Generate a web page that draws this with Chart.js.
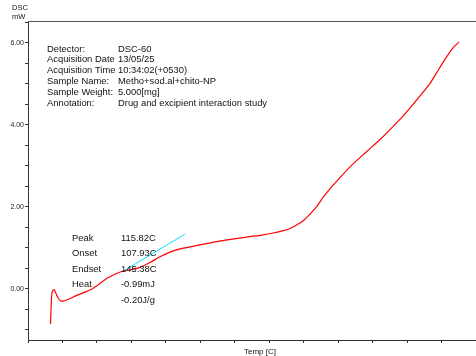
<!DOCTYPE html>
<html>
<head>
<meta charset="utf-8">
<script src="https://cdn.jsdelivr.net/npm/chart.js@4"></script>
<style>
  html, body { margin: 0; padding: 0; background: #fff; }
  #wrap { width: 476px; height: 356px; }
</style>
</head>
<body>
<div id="wrap"><canvas id="dscChart" width="476" height="356"></canvas></div>
<script>
// temperature [C] and heat flow [mW]
var temps = [67.2, 67.5, 67.8, 68.3, 69.2, 70.2, 71.5, 73.0, 74.5, 77.0, 80.4, 85.0, 90.1, 95.0, 99.8,
             104.0, 108.5, 114.0, 119.2, 125.0, 130.8, 137.0, 144.4, 154.0, 163.8, 173.0, 183.1, 190.0,
             196.7, 202.0, 206.4, 210.0, 214.1, 218.0, 221.9, 225.5, 229.7, 233.5, 237.4, 241.0, 245.2,
             250.0, 254.8, 259.5, 264.5, 270.3, 275.2, 281.5, 287.8, 292.5, 297.5, 301.0, 304.7];
var dsc = [-0.86, -0.50, -0.20, -0.06, -0.02, -0.10, -0.22, -0.29, -0.30, -0.27, -0.20, -0.12, -0.03, 0.10, 0.25,
           0.34, 0.42, 0.47, 0.52, 0.64, 0.78, 0.90, 0.99, 1.07, 1.15, 1.21, 1.27, 1.31,
           1.36, 1.41, 1.47, 1.55, 1.66, 1.82, 2.00, 2.22, 2.44, 2.62, 2.80, 2.96, 3.13,
           3.31, 3.49, 3.67, 3.88, 4.13, 4.36, 4.68, 5.01, 5.33, 5.66, 5.87, 6.02];

// tangent line used for onset
var tangentT = [108.7, 145.3];
var tangentV = [0.41, 1.33];

var headerLabels = ["Detector:", "Acquisition Date", "Acquisition Time", "Sample Name:", "Sample Weight:", "Annotation:"];
var headerValues = ["DSC-60", "13/05/25", "10:34:02(+0530)", "Metho+sod.al+chito-NP", "5.000[mg]", "Drug and excipient interaction study"];

var peakLabels = ["Peak", "Onset", "Endset", "Heat", ""];
var peakValues = ["115.82C", "107.93C", "145.38C", "-0.99mJ", "-0.20J/g"];

var font = '"Liberation Sans", Arial, sans-serif';

function toPoints(xs, ys) {
    var pts = [];
    for (var i = 0; i < xs.length; i++) {
        pts.push({ x: xs[i], y: ys[i] });
    }
    return pts;
}

// draws the frame top line and all the text boxes
var textPlugin = {
    id: 'dscText',
    afterDraw: function (chart) {
        var ctx = chart.ctx;
        var area = chart.chartArea;
        ctx.save();
        ctx.strokeStyle = '#555';
        ctx.lineWidth = 1;
        ctx.beginPath();
        ctx.moveTo(area.left, area.top + 0.5);
        ctx.lineTo(area.right, area.top + 0.5);
        ctx.stroke();

        ctx.fillStyle = '#111';
        ctx.textBaseline = 'middle';
        ctx.textAlign = 'left';
        ctx.font = '9.4px ' + font;
        for (var i = 0; i < headerLabels.length; i++) {
            ctx.fillText(headerLabels[i], 47, 49 + i * 10.8);
            ctx.fillText(headerValues[i], 118, 49 + i * 10.8);
        }
        for (var j = 0; j < peakLabels.length; j++) {
            ctx.fillText(peakLabels[j], 72, 238 + j * 15.5);
            ctx.fillText(peakValues[j], 121, 238 + j * 15.5);
        }

        ctx.font = '7.5px ' + font;
        ctx.fillText("DSC", 12, 8);
        ctx.fillText("mW", 12, 17);
        ctx.textAlign = 'center';
        ctx.font = '8px ' + font;
        ctx.fillText("Temp [C]", 260, 352);
        ctx.restore();
    }
};

var dscChart = new Chart(document.getElementById("dscChart"), {
    type: 'line',
    data: {
        datasets: [
            {
                data: toPoints(temps, dsc),
                borderColor: '#ff0000',
                borderWidth: 1.2,
                pointRadius: 0,
                tension: 0.2
            },
            {
                data: toPoints(tangentT, tangentV),
                borderColor: '#00e5ff',
                borderWidth: 1,
                pointRadius: 0
            }
        ]
    },
    options: {
        responsive: false,
        animation: false,
        events: [],
        layout: { padding: { top: 21, right: 0, left: 0, bottom: 0 } },
        plugins: { legend: { display: false }, tooltip: { enabled: false } },
        scales: {
            x: {
                type: 'linear',
                min: 54.1,
                max: 314.5,
                afterFit: function (s) { s.height = 16; },
                border: { color: '#333', width: 1 },
                grid: { drawOnChartArea: false, tickLength: 3, color: '#333' },
                ticks: {
                    stepSize: 20,
                    includeBounds: false,
                    autoSkip: false,
                    maxRotation: 0,
                    padding: 0,
                    color: '#222',
                    font: { size: 7, family: font },
                    callback: function (v) { return v % 100 === 0 ? v.toFixed(2) : ''; }
                }
            },
            y: {
                min: -1.25,
                max: 6.53,
                afterFit: function (s) { s.width = 28; },
                border: { color: '#333', width: 1 },
                grid: { drawOnChartArea: false, tickLength: 3, color: '#333' },
                ticks: {
                    stepSize: 0.5,
                    includeBounds: false,
                    autoSkip: false,
                    padding: 1,
                    color: '#222',
                    font: { size: 7, family: font },
                    callback: function (v) { return Math.abs(v % 2) < 1e-9 ? v.toFixed(2) : ''; }
                }
            }
        }
    },
    plugins: [textPlugin]
});
</script>
</body>
</html>
